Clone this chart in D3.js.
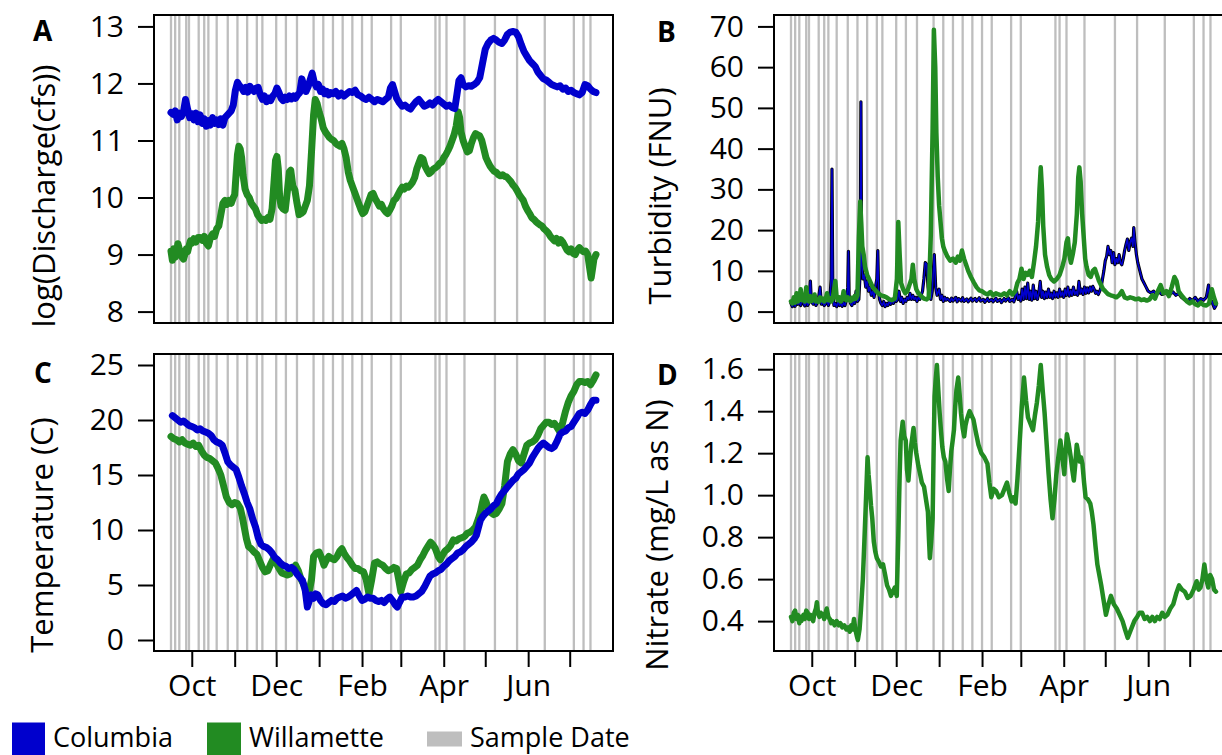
<!DOCTYPE html>
<html>
<head>
<meta charset="utf-8">
<script src="https://cdn.jsdelivr.net/npm/d3@7"></script>
<style>
  body { margin: 0; background: #fff; }
  svg text { font-family: "Open Sans", "DejaVu Sans", sans-serif; fill: #000; }
</style>
</head>
<body>
<svg id="chart" width="1222" height="755"></svg>
<script>
// Day numbers below count from 1 October 2016 (negative = September).
const recordSpan = [-15, 292];

// Dates on which water samples were collected
const sampleDates = [
  "2016-09-16","2016-09-19","2016-09-22","2016-09-27","2016-09-29","2016-10-06",
  "2016-10-10","2016-10-13","2016-10-19","2016-10-27","2016-11-03","2016-11-10",
  "2016-11-17","2016-11-21","2016-12-01","2016-12-08","2016-12-16","2016-12-28",
  "2017-01-04","2017-01-11","2017-01-18","2017-01-25","2017-02-01","2017-02-08",
  "2017-02-22","2017-03-01","2017-03-26","2017-03-29","2017-04-03","2017-04-16",
  "2017-05-08","2017-05-24","2017-06-13","2017-07-04","2017-07-11","2017-07-16"
];

const monthTicks = ["2016-10-01","2016-11-01","2016-12-01","2017-01-01","2017-02-01",
  "2017-03-01","2017-04-01","2017-05-01","2017-06-01","2017-07-01"];
const monthLabels = ["Oct","","Dec","","Feb","","Apr","","Jun",""];

const dischargeTicks = [8, 9, 10, 11, 12, 13];
const turbidityTicks = [0, 10, 20, 30, 40, 50, 60, 70];
const temperatureTicks = [0, 5, 10, 15, 20, 25];
const nitrateTicks = [0.4, 0.6, 0.8, 1.0, 1.2, 1.4, 1.6];

// log(discharge, cfs): [day, value]
const columbiaDischarge = [
[-15,11.49],[-13.5,11.46],[-12,11.52],[-10.5,11.36],[-9,11.48],[-7.5,11.42],[-6,11.5],[-4.5,11.72],[-3,11.55],[-1.5,11.4],[0,11.47],[1.5,11.36],[3,11.48],[4.5,11.33],[6,11.45],[7.5,11.3],[9,11.38],[10.5,11.25],[12,11.35],[13.5,11.27],[15,11.4],[16.5,11.3],[18,11.36],[19.5,11.28],[21,11.38],[22.5,11.27],[24,11.4],[25.5,11.44],[27,11.48],[28.5,11.52],[30,11.62],[31.5,11.88],[33,12.02],[34.5,11.96],[36,11.92],[37.5,11.86],[39,11.93],[40.5,11.85],[42,11.95],[43.5,11.9],[45,11.86],[46.5,11.92],[48,11.93],[49.5,11.8],[51,11.72],[52.5,11.78],[54,11.68],[55.5,11.74],[57,11.7],[58.5,11.78],[60,11.82],[61.5,11.92],[63,11.84],[64.5,11.74],[66,11.7],[67.5,11.76],[69,11.72],[70.5,11.78],[72,11.73],[73.5,11.78],[75,11.74],[76.5,11.8],[78,11.84],[79.5,12.08],[81,11.96],[82.5,11.86],[84,11.94],[85.5,12.06],[87,12.18],[88.5,12.02],[90,11.94],[91.5,11.98],[93,11.86],[94.5,11.9],[96,11.82],[97.5,11.86],[99,11.8],[100.5,11.84],[102,11.82],[104,11.86],[106,11.78],[108,11.83],[110,11.78],[112,11.82],[114,11.86],[116,11.84],[118,11.88],[120,11.8],[122,11.78],[124,11.74],[126,11.72],[128,11.76],[130,11.72],[132,11.68],[134,11.72],[136,11.7],[138,11.68],[140,11.72],[142,11.76],[143.5,11.92],[145,11.98],[146.5,11.86],[148,11.74],[150,11.66],[152,11.6],[154,11.62],[156,11.58],[158,11.55],[160,11.62],[162,11.68],[164,11.72],[166,11.66],[168,11.6],[170,11.62],[172,11.66],[174,11.62],[176,11.68],[178,11.72],[180,11.68],[182,11.64],[184,11.6],[186,11.62],[188,11.58],[190,11.56],[191.5,11.8],[193,12.05],[194.5,12.1],[196,11.98],[198,11.94],[200,11.96],[202,11.95],[204,11.98],[206,12.02],[208,12.1],[210,12.35],[212,12.6],[214,12.7],[216,12.76],[218,12.79],[220,12.76],[222,12.72],[224,12.7],[226,12.76],[228,12.86],[230,12.9],[232,12.91],[234,12.9],[236,12.82],[238,12.68],[240,12.56],[242,12.48],[244,12.4],[246,12.35],[248,12.3],[250,12.2],[252,12.14],[254,12.08],[256,12.06],[258,12.02],[260,11.98],[262,11.96],[264,11.94],[266,11.96],[268,11.9],[270,11.92],[272,11.86],[274,11.88],[276,11.84],[278,11.82],[280,11.8],[282,11.84],[284,11.98],[286,11.96],[288,11.9],[290,11.86],[292,11.84]
];
const willametteDischarge = [
[-15,9.06],[-14,8.9],[-13,9.1],[-12,8.95],[-11,9.05],[-10,9.19],[-9,9.1],[-8,9.0],[-7,8.95],[-6,8.92],[-5,9.0],[-4,9.1],[-3,9.05],[-2,9.15],[-1,9.24],[0,9.2],[1.5,9.28],[3,9.22],[4.5,9.3],[6,9.3],[7.5,9.25],[9,9.32],[10.5,9.2],[12,9.15],[13.5,9.3],[15,9.36],[16.5,9.32],[18,9.45],[19.5,9.5],[21,9.7],[22.5,9.9],[24,9.95],[25.5,9.88],[27,9.95],[28.5,9.9],[30,10.0],[31,10.05],[32,10.4],[33,10.75],[34,10.9],[35,10.85],[36,10.7],[37,10.4],[38.5,10.15],[40,10.05],[41.5,10.0],[43,9.9],[44.5,9.85],[46,9.8],[47.5,9.7],[49,9.65],[50.5,9.6],[52,9.62],[53.5,9.6],[55,9.65],[56.5,9.62],[58,9.8],[59.5,10.3],[60.5,10.65],[61.5,10.72],[62.5,10.5],[63.5,10.0],[64.5,9.85],[66,9.8],[67.5,9.78],[69,10.1],[70.5,10.45],[71.5,10.48],[73,10.2],[74.5,10.13],[76,9.9],[77.5,9.7],[79,9.72],[80.5,9.75],[82,9.85],[83.5,9.95],[85,10.2],[86.5,10.8],[88,11.45],[89.2,11.72],[90.5,11.65],[92,11.5],[93.5,11.38],[95,11.22],[96.5,11.15],[98,11.1],[99.5,11.05],[101,11.02],[102.5,11.0],[104,10.95],[105.5,10.92],[107,10.9],[108.5,10.95],[110,10.85],[111.5,10.7],[113,10.45],[114.5,10.3],[116,10.2],[117.5,10.1],[119,10.0],[120.5,9.9],[122,9.8],[123.5,9.72],[125,9.75],[126.5,9.85],[128,9.95],[129.5,10.05],[131,10.07],[132.5,9.98],[134,9.92],[135.5,9.85],[137,9.88],[138.5,9.8],[140,9.75],[141.5,9.72],[143,9.78],[144.5,9.85],[146,9.95],[147.5,9.98],[149,10.05],[150.5,10.12],[152,10.18],[153.5,10.15],[155,10.2],[156.5,10.18],[158,10.22],[159.5,10.27],[161,10.35],[162.5,10.5],[164,10.6],[165.5,10.7],[167,10.68],[168.5,10.55],[170,10.48],[171.5,10.42],[173,10.45],[174.5,10.5],[176,10.52],[177.5,10.55],[179,10.6],[180.5,10.62],[182,10.7],[183.5,10.75],[185,10.82],[186.5,10.9],[188,11.0],[189.5,11.1],[191,11.25],[192.5,11.5],[193.5,11.4],[194.5,11.15],[196,11.0],[197.5,10.9],[199,10.8],[200.5,10.82],[202,10.95],[203.5,11.05],[205,11.12],[206.5,11.1],[208,11.08],[209.5,11.0],[211,10.85],[212.5,10.7],[214,10.62],[215.5,10.55],[217,10.5],[218.5,10.46],[220,10.44],[221.5,10.4],[223,10.38],[224.5,10.4],[226,10.37],[227.5,10.36],[229,10.32],[230.5,10.28],[232,10.22],[233.5,10.18],[235,10.12],[236.5,10.05],[238,10.0],[239.5,9.95],[241,9.85],[242.5,9.78],[244,9.72],[245.5,9.65],[247,9.62],[248.5,9.58],[250,9.55],[251.5,9.52],[253,9.5],[254.5,9.45],[256,9.42],[257.5,9.38],[259,9.32],[260.5,9.28],[262,9.24],[263.5,9.28],[265,9.2],[266.5,9.26],[268,9.22],[269.5,9.15],[271,9.08],[272.5,9.05],[274,9.1],[275.5,9.02],[277,9.0],[278.5,9.08],[280,9.12],[281.5,9.08],[283,9.05],[284.5,9.06],[286,9.0],[287.5,8.75],[288.5,8.59],[289.5,8.75],[290.5,8.92],[292,9.0]
];

// Turbidity, FNU: [day, value]
const columbiaTurbidity = [
[-15,2],[-14,1.2],[-13,2.5],[-12,1.3],[-11,3],[-10,1.8],[-9,2.2],[-8,1.5],[-7,3.5],[-6,2],[-5,1.4],[-4,2.8],[-3,1.5],[-2,2.2],[-1,7.5],[-0.3,2.5],[1,1.8],[2,3],[3,1.5],[4,2.2],[5,3.5],[6,6],[7,1.8],[8,2.5],[9,1.5],[10,2],[11,3],[12,1.5],[13,2.5],[14,8],[14.6,35],[15.2,6],[16,1.5],[17,2],[18,1.2],[19,2.5],[20,1.5],[21,2],[22,1.3],[23,2.2],[24,1.5],[25,3],[26,6],[26.5,14.8],[27,4],[28,2],[29,1.5],[30,2.5],[31,2],[32,5],[33,2.5],[34,3],[35,10],[35.5,51.5],[36,12],[37,8],[38,9],[39,6],[40,7.5],[41,5],[42,6],[43,4],[44,5],[45,3.5],[46,6],[47,8],[47.7,15],[48.3,5],[49,3],[50,2],[51,1.5],[52,2.5],[53,1.2],[54,2],[55,1.5],[56,2.5],[57,1.8],[58,3],[59,2],[60,3.5],[61,2.5],[62,3],[63,5],[64,2.5],[65,3.5],[66,2],[67,3],[68,2.5],[69,3.5],[70,3],[71,4.5],[72,3],[73,4],[74,3],[75,3.5],[76,2.5],[77,3.5],[78,3],[79,4],[80,5],[81,8],[82,12],[83.1,11.6],[84,6],[85,3.5],[86,3],[87,5],[88.5,14],[89.5,6],[90.5,4],[92,5.5],[93,3],[94,4],[95,2.5],[96,3.5],[97,2.8],[98,3.2],[100,2.5],[101,3.3],[102,2.6],[104,3.5],[105,2.4],[106,3.2],[108,2.6],[109,3.4],[110,2.5],[112,3.1],[113,2.4],[115,3.3],[116,2.6],[118,3.2],[119,2.5],[121,3.4],[122,2.6],[124,3],[125,2.3],[127,3.2],[128,2.5],[130,3],[131,2.4],[133,3.3],[134,2.5],[136,3],[137,2.2],[139,3.2],[140,2.6],[142,3.4],[143,2.5],[145,3],[146,2.4],[148,5],[149,3],[150,4],[151,2.6],[152,5.5],[153,3],[154,6],[155,3.2],[156,7],[157,3],[158,5],[159,2.8],[160,6.5],[161,3.2],[162,5],[163,3],[164,4.5],[165,7.4],[166,3.5],[167,5],[168,3.2],[169,4.8],[170,3.4],[171,5.5],[172,3.5],[173,4.5],[174,3.2],[175,5],[176,3.6],[177,4.6],[178,3.5],[179,5.5],[180,3.8],[181,4.8],[182,3.5],[183,5.5],[184,4],[185,6],[186,3.8],[187,5.2],[188,4],[189,6],[190,4.2],[191,5],[192,4],[193,7.4],[194,4.5],[195,5.5],[196,4.2],[197,6],[198,4.5],[199,5.8],[200,4.6],[201,6],[202,5],[203,6.2],[204,5.5],[205,4.5],[206,5],[207,4.2],[208,5],[209,6],[210,8],[211,10],[212,12.5],[213,13.5],[214,16],[215,14],[216,15],[217,12],[218,14.5],[219,11.5],[220,13],[221,12],[222,14],[223,12],[224,11.5],[225,13],[226,15],[227,16.5],[228,17.8],[229,15],[230,17],[231,18],[232,16],[232.6,20.6],[233.5,17],[234.5,14],[235.5,12],[237,10],[238.5,8],[240,7],[241.5,6],[243,5],[245,4.6],[247,5],[249,4.2],[251,4.8],[253,4.2],[255,4.5],[257,5],[259,4.3],[261,4.8],[263,4],[265,4.5],[267,3.5],[269,3],[271,2.5],[273,3.2],[275,2.6],[277,3.5],[279,2.5],[281,3.2],[283,2.8],[285,3.5],[286.6,6.5],[287.5,3],[289,2.5],[290.9,0.8],[292,1.5]
];
const willametteTurbidity = [
[-15,2.5],[-14,2],[-13,3.5],[-12,2.2],[-11,4.5],[-10,2.5],[-9,3],[-8,5.5],[-7,2.8],[-6,3.2],[-5,2.5],[-4,6],[-3,3],[-2,2.5],[-1,3.8],[0,2.6],[1,3],[2,4.2],[3,2.5],[4,3],[5,2.4],[6,3.5],[7,2.8],[8,3.2],[9,2.5],[10,3],[11,4.5],[12,2.8],[13,3.3],[14,2.5],[15,3],[16,5],[17,7.5],[18,3.5],[19,2.8],[20,3.5],[21,2.5],[22,3],[23,5],[24,3.2],[25,2.8],[26,3.5],[27,3],[28,2.6],[29,3.4],[30,3],[31,3.8],[32,3.2],[33,4],[34,18],[35,27],[35.7,22],[36.5,16],[37.5,14],[38.5,11],[40,9],[42,7.5],[44,6],[46,5.2],[48,4.5],[50,4],[52,3.8],[54,3.5],[56,3],[58,2.8],[60,3.2],[61.5,8],[62.5,22],[63.5,14],[64.5,7],[66,5.5],[67.5,4.5],[69,5],[70.5,6.5],[72,8],[73,11.5],[74,8],[75.5,5.5],[77,4.5],[79,3.8],[81,3.2],[83,3],[84.5,3.5],[86,19],[87.3,45],[88.2,69.2],[89.2,60],[90,44],[91,33],[92,26],[93,22],[94,18],[95,16],[96,15],[98,13.5],[100,12.5],[102,13],[104,12],[105.5,13.5],[107,12.5],[108.5,15],[110,13],[111.5,11.5],[113,10],[115,8.5],[117,7.2],[119,6],[121,5.2],[123,5],[125,4.5],[127,4.2],[129,4.8],[131,4],[133,4.5],[135,4.2],[137,4],[139,4.5],[141,4],[143,5],[145,4.2],[147,5],[148.5,7],[150,8],[151.5,10.5],[153,8],[154.5,9.5],[156,9],[157.5,10],[159,8.5],[160.5,12],[162,16],[163.5,22],[164.5,30],[165.4,35.4],[166.3,30],[167.2,21],[168.5,14],[170,11],[171.5,9],[173,8],[175,7.4],[177,8],[179,9],[181,11],[182.5,13],[184,17],[185,18],[186,14],[187.2,12],[188.5,14],[190,17],[191.5,24],[192.5,33],[193.3,35.4],[194.2,32],[195.3,24],[196.5,18],[197.5,13],[198.5,11],[200,9],[201.5,8.5],[203,10],[204.5,10.5],[206,9],[207.5,7.5],[209,6.5],[210.5,5.5],[212,5],[214,4.3],[216,4],[218,3.8],[220,3.5],[222,4],[224,5],[226,3.5],[228,3.2],[230,3.5],[232,3.3],[234,3],[236,3.2],[238,2.8],[240,3],[242,2.7],[244,3],[246,4],[248,3.2],[250,5],[252,6.5],[254,4.5],[256,5],[258,3.8],[260,6],[262,8.5],[263.5,7.5],[265,5],[267,4],[269,3.2],[271,2.5],[273,2],[275,2.5],[277,1.8],[279,1.5],[281,2.2],[283,1.6],[285,1.5],[287,2],[289,5.5],[290.5,3.5],[292,2]
];

// Water temperature, deg C: [day, value]
const columbiaTemperature = [
[-14,20.4],[-12,20.2],[-10,20.0],[-8,19.8],[-6,19.9],[-4,19.7],[-2,19.5],[0,19.4],[2,19.3],[4,19.1],[6,19.2],[8,19.0],[10,18.9],[12,18.8],[14,18.6],[16,18.2],[18,18.0],[20,17.9],[22,17.7],[24,17.0],[26,16.2],[28,15.9],[30,15.7],[32,15.5],[34,14.8],[36,14.0],[38,13.3],[40,12.5],[42,11.9],[44,11.0],[46,10.3],[48,9.3],[50,8.7],[52,8.5],[54,8.4],[56,8.2],[58,7.9],[60,7.5],[62,7.3],[64,7.0],[66,6.8],[68,6.7],[70,6.5],[72,6.6],[74,6.4],[76,6.0],[78,5.7],[80,5.4],[82,4.5],[83.5,3.0],[85,3.6],[86.5,4.1],[88,3.8],[89.5,4.2],[91,4.1],[93,3.6],[95,3.3],[97,3.2],[99,3.4],[101,3.6],[103,3.5],[105,3.8],[107,3.9],[109,4.0],[111,3.8],[113,3.9],[115,4.1],[117,4.3],[119,4.5],[121,4.0],[123,3.6],[125,3.7],[127,3.9],[129,3.8],[131,3.8],[133,3.6],[135,3.5],[137,3.6],[139,3.4],[141,3.7],[143,3.9],[145,3.6],[147,3.2],[148.5,3.0],[150,3.4],[152,3.9],[154,3.9],[156,4.0],[158,3.9],[160,3.9],[162,4.0],[164,4.2],[166,4.4],[168,4.8],[170,5.3],[172,5.8],[174,6.0],[176,6.1],[178,6.3],[180,6.4],[182,6.7],[184,6.9],[186,7.2],[188,7.4],[190,7.6],[192,7.9],[194,8.0],[196,8.2],[198,8.5],[200,8.7],[202,8.9],[204,9.2],[205.5,9.5],[207,10.2],[208.5,10.9],[210,11.2],[212,11.5],[214,11.7],[216,11.9],[218,12.2],[220,12.4],[222,12.9],[224,13.3],[226,13.6],[228,13.9],[230,14.2],[232,14.5],[234,14.7],[236,15.1],[238,15.3],[240,15.5],[242,15.8],[244,16.1],[246,16.6],[248,17.0],[250,17.4],[252,17.7],[254,17.9],[256,17.7],[258,17.5],[260,17.4],[262,17.6],[264,18.1],[266,18.7],[268,18.9],[270,19.0],[272,19.3],[274,19.4],[276,19.8],[278,20.2],[280,20.6],[282,20.7],[284,20.6],[286,20.9],[288,21.4],[290,21.8],[292,21.8]
];
const willametteTemperature = [
[-15,18.5],[-13,18.3],[-11,18.2],[-9,18.0],[-7,18.2],[-5,17.9],[-3,17.8],[-1,17.7],[1,17.9],[3,17.6],[5,17.7],[7,17.2],[9,16.8],[11,16.6],[13,16.5],[15,16.3],[17,16.1],[19,15.6],[21,15.0],[23,14.0],[25,13.0],[27,12.5],[29,12.3],[31,12.5],[33,12.4],[35,12.0],[36.5,11.2],[38,10.2],[39.5,9.2],[41,8.5],[43,8.3],[45,8.0],[47,7.8],[49,7.2],[51,6.6],[53,6.2],[55,6.3],[57,6.9],[59,7.4],[61,7.0],[63,6.5],[65,6.1],[67,6.0],[69,5.9],[71,6.0],[73,6.5],[75,6.8],[77,6.3],[79,5.5],[81,5.0],[83,4.7],[85,4.5],[86.5,5.5],[88,7.6],[90,7.9],[92,8.0],[94,7.4],[95.5,6.8],[97,7.2],[99,7.6],[101,7.4],[103,7.3],[105,7.6],[107,8.1],[108.5,8.3],[110,7.9],[112,7.5],[114,7.2],[116,6.8],[118,6.5],[120,6.5],[122,6.3],[124,6.2],[126,5.5],[128,4.2],[130,5.5],[132,7.0],[134,7.1],[136,6.9],[138,6.8],[140,6.5],[142,6.3],[144,6.4],[146,6.6],[148,6.5],[149.5,5.5],[151,4.4],[153,5.3],[155,6.0],[157,6.1],[159,6.4],[161,6.6],[163,6.8],[165,7.3],[167,7.7],[169,8.2],[171,8.6],[172.5,8.9],[174,8.7],[176,8.3],[178,7.6],[179.5,7.3],[181,7.7],[183,8.1],[185,8.3],[187,8.6],[189,9.1],[191,9.0],[193,9.2],[195,9.3],[197,9.4],[199,9.7],[201,9.8],[203,10.0],[205,10.3],[207,11.0],[208.5,11.6],[210,12.5],[211,13.0],[212.5,12.6],[214,12.0],[216,11.6],[218,11.4],[220,11.5],[222,11.9],[224,12.4],[226,14.0],[228,16.2],[230,16.9],[232,17.3],[234,16.9],[236,16.3],[238,16.1],[240,16.9],[242,17.7],[244,17.9],[246,18.0],[248,18.2],[250,18.6],[252,19.2],[254,19.5],[256,19.8],[258,19.8],[260,19.6],[262,19.7],[264,19.3],[266,18.9],[268,19.8],[270,20.8],[272,21.6],[274,22.2],[276,22.6],[278,23.2],[280,23.5],[282,23.5],[284,23.4],[286,23.5],[288,23.2],[290,23.6],[292,24.1]
];

// Nitrate, mg/L as N (Willamette only): [day, value]
const willametteNitrate = [
[-15,0.42],[-14,0.4],[-13,0.44],[-12,0.45],[-11,0.41],[-10,0.43],[-9,0.39],[-8,0.42],[-7.5,0.40],[-6,0.43],[-5,0.41],[-4,0.45],[-3,0.44],[-2,0.41],[-1,0.43],[0,0.42],[1,0.4],[2,0.44],[3,0.46],[3.7,0.49],[4.5,0.44],[5.5,0.42],[6.5,0.44],[8,0.43],[9,0.41],[10,0.44],[10.8,0.46],[12,0.42],[13,0.41],[14,0.39],[15,0.40],[16.5,0.38],[18,0.4],[19.5,0.38],[20.7,0.39],[22,0.37],[23.5,0.38],[25,0.36],[26.3,0.37],[27.5,0.35],[28.5,0.38],[29.5,0.36],[30.5,0.41],[31.5,0.36],[32.5,0.33],[33.3,0.31],[34.5,0.36],[35.5,0.45],[36.9,0.60],[38,0.78],[39,0.95],[40.3,1.18],[41,1.1],[41.8,1.04],[42.8,0.95],[43.7,0.89],[44.8,0.78],[45.9,0.73],[47,0.70],[48.7,0.68],[50,0.66],[51.5,0.67],[53,0.62],[54.4,0.57],[55.8,0.55],[57.2,0.52],[58.5,0.54],[60,0.56],[61.4,0.52],[62.5,0.8],[63.5,1.1],[64.2,1.26],[65.7,1.35],[66.8,1.28],[67.9,1.26],[68.8,1.12],[69.8,1.07],[70.8,1.15],[71.9,1.24],[73.5,1.32],[74.5,1.25],[75.5,1.2],[77,1.14],[78.3,1.1],[79.5,1.06],[81.1,1.04],[82.5,0.98],[83.9,0.92],[84.6,0.8],[85.3,0.70],[86.3,0.78],[87.3,0.89],[88,1.2],[88.7,1.47],[89.5,1.55],[90.4,1.62],[91.4,1.5],[92.4,1.39],[93.4,1.3],[94.3,1.23],[95.4,1.18],[96.5,1.16],[97.7,1.08],[98.9,1.02],[99.8,1.12],[100.8,1.21],[101.8,1.26],[102.7,1.31],[103.6,1.42],[104.5,1.5],[105.8,1.56],[106.8,1.48],[107.8,1.39],[109,1.32],[110.1,1.28],[111,1.33],[112,1.36],[113,1.38],[114,1.4],[115.4,1.38],[116.8,1.36],[118.5,1.3],[120.4,1.24],[122.5,1.2],[124.7,1.18],[126.9,1.15],[128.3,1.06],[129.7,0.99],[131.4,1.03],[133.1,1.02],[135.2,0.99],[137.4,1.0],[139.2,1.03],[141,1.06],[142.7,1.01],[144.4,0.97],[145.8,0.99],[147.2,0.96],[148.6,1.08],[150,1.23],[151.7,1.42],[153.3,1.56],[154.8,1.45],[156.2,1.37],[158,1.34],[159.8,1.31],[161.2,1.38],[162.6,1.44],[164,1.52],[165.4,1.62],[166.8,1.5],[168.2,1.39],[169.6,1.25],[171.1,1.1],[172.5,0.98],[173.9,0.89],[175.3,0.98],[176.7,1.1],[178.1,1.18],[179.6,1.26],[181,1.18],[182.4,1.1],[183.3,1.2],[184.3,1.29],[185.7,1.24],[187.1,1.18],[188.2,1.12],[189.3,1.07],[190.4,1.15],[191.4,1.24],[192.5,1.2],[193.6,1.16],[194.5,1.18],[195.5,1.15],[196.7,1.06],[197.8,0.99],[199.5,0.98],[201.2,0.96],[202.3,0.92],[203.5,0.86],[204.9,0.76],[206.3,0.67],[207.7,0.62],[209.1,0.57],[210.8,0.5],[212.5,0.43],[214.3,0.48],[216.1,0.52],[218.2,0.48],[220.3,0.46],[222.4,0.43],[224.5,0.40],[226.3,0.36],[228.2,0.32],[230.6,0.36],[233,0.40],[235,0.42],[236.8,0.44],[238.6,0.44],[240.5,0.41],[242.3,0.42],[244.2,0.40],[246,0.42],[247.8,0.4],[249.5,0.42],[251.3,0.41],[253.2,0.44],[255,0.42],[256.9,0.43],[259,0.46],[261.1,0.48],[263.2,0.53],[265.3,0.57],[267.4,0.55],[269.5,0.54],[271.6,0.51],[273.7,0.52],[275.8,0.55],[278,0.59],[279.4,0.55],[280.8,0.56],[282.2,0.6],[283.6,0.67],[285,0.6],[286.4,0.56],[287.8,0.62],[289.2,0.6],[290.6,0.55],[292,0.54]
];

const COLUMBIA = "#0000CD";
const WILLAMETTE = "#228B22";
const SAMPLE = "#BEBEBE";

// ---- helpers -------------------------------------------------------------
const seasonStart = Date.UTC(2016, 9, 1);
const toDate = d => new Date(seasonStart + d * 864e5);
const parseDay = d3.utcParse("%Y-%m-%d");
const padRange = ([lo, hi], f = 0.04) => [lo - f * (hi - lo), hi + f * (hi - lo)];

const svg = d3.select("#chart");
const boxW = 459;

const x = d3.scaleUtc()
  .domain(padRange(recordSpan).map(toDate))
  .range([0, boxW]);

const panels = [
  { letter: "A", left: 154, top: 15, height: 308, limits: [8, 13], ticks: dischargeTicks,
    fmt: d3.format("d"), title: "log(Discharge(cfs))", titleX: 55, titleY: 196, letterXY: [33, 41],
    dateAxis: false,
    series: [
      { data: willametteDischarge, color: WILLAMETTE, width: 7 },
      { data: columbiaDischarge, color: COLUMBIA, width: 7 }
    ] },
  { letter: "B", left: 774, top: 15, height: 308, limits: [0, 70], ticks: turbidityTicks,
    fmt: d3.format("d"), title: "Turbidity (FNU)", titleX: 671, titleY: 196, letterXY: [657, 42],
    dateAxis: false,
    series: [
      { data: columbiaTurbidity, color: "#000", width: 3.2 },
      { data: columbiaTurbidity, color: COLUMBIA, width: 1.6 },
      { data: willametteTurbidity, color: WILLAMETTE, width: 4.5 }
    ] },
  { letter: "C", left: 154, top: 354, height: 297, limits: [0, 25], ticks: temperatureTicks,
    fmt: d3.format("d"), title: "Temperature (C)", titleX: 53, titleY: 535, letterXY: [34, 383],
    dateAxis: true,
    series: [
      { data: willametteTemperature, color: WILLAMETTE, width: 7 },
      { data: columbiaTemperature, color: COLUMBIA, width: 7 }
    ] },
  { letter: "D", left: 774, top: 354, height: 297, limits: null, ticks: nitrateTicks,
    fmt: d3.format(".1f"), title: "Nitrate (mg/L as N)", titleX: 668, titleY: 535, letterXY: [657, 385],
    dateAxis: true,
    series: [
      { data: willametteNitrate, color: WILLAMETTE, width: 4.5 }
    ] }
];

function styleAxis(g, size) {
  g.attr("font-family", null).attr("font-size", null);
  g.select(".domain").remove();
  g.selectAll(".tick line").attr("stroke", "#000").attr("stroke-width", 2);
  g.selectAll(".tick text").attr("font-size", size).attr("fill", "#000");
}

panels.forEach(p => {
  const lims = p.limits || d3.extent(p.series.flatMap(s => s.data), d => d[1]);
  const y = d3.scaleLinear().domain(padRange(lims)).range([p.height, 0]);

  const g = svg.append("g").attr("transform", `translate(${p.left},${p.top})`);

  // sample dates as grey rules
  g.append("g").selectAll("line")
    .data(sampleDates.map(parseDay))
    .join("line")
    .attr("x1", d => x(d)).attr("x2", d => x(d))
    .attr("y1", 0).attr("y2", p.height)
    .attr("stroke", SAMPLE).attr("stroke-width", 2.3);

  const line = d3.line().x(d => x(toDate(d[0]))).y(d => y(d[1]));
  p.series.forEach(s => {
    g.append("path")
      .datum(s.data)
      .attr("d", line)
      .attr("fill", "none")
      .attr("stroke", s.color)
      .attr("stroke-width", s.width)
      .attr("stroke-linejoin", "round")
      .attr("stroke-linecap", "round");
  });

  g.append("rect")
    .attr("width", boxW).attr("height", p.height)
    .attr("fill", "none").attr("stroke", "#000").attr("stroke-width", 2);

  g.append("g")
    .call(d3.axisLeft(y).tickValues(p.ticks).tickFormat(p.fmt).tickSize(16).tickSizeOuter(0).tickPadding(14))
    .call(ax => styleAxis(ax, 30));

  if (p.dateAxis) {
    g.append("g")
      .attr("transform", `translate(0,${p.height})`)
      .call(d3.axisBottom(x).tickValues(monthTicks.map(parseDay))
        .tickFormat((d, i) => monthLabels[i]).tickSize(16).tickSizeOuter(0).tickPadding(8))
      .call(ax => styleAxis(ax, 30));
  }

  svg.append("text")
    .attr("transform", `translate(${p.titleX},${p.titleY}) rotate(-90)`)
    .attr("text-anchor", "middle")
    .attr("font-size", 31)
    .text(p.title);

  svg.append("text")
    .attr("x", p.letterXY[0]).attr("y", p.letterXY[1])
    .attr("font-size", 28).attr("font-weight", 700)
    .text(p.letter);
});

// legend along the bottom edge
const legendItems = [
  { label: "Columbia", color: COLUMBIA, x: 12, swatch: [33, 33] },
  { label: "Willamette", color: WILLAMETTE, x: 207, swatch: [34, 33] },
  { label: "Sample Date", color: SAMPLE, x: 427, swatch: [35, 15] }
];
const legend = svg.append("g");
legendItems.forEach(item => {
  legend.append("rect")
    .attr("x", item.x)
    .attr("y", 739 - item.swatch[1] / 2)
    .attr("width", item.swatch[0]).attr("height", item.swatch[1])
    .attr("fill", item.color);
  legend.append("text")
    .attr("x", item.x + item.swatch[0] + 8)
    .attr("y", 747)
    .attr("font-size", 27)
    .text(item.label);
});
</script>
</body>
</html>
